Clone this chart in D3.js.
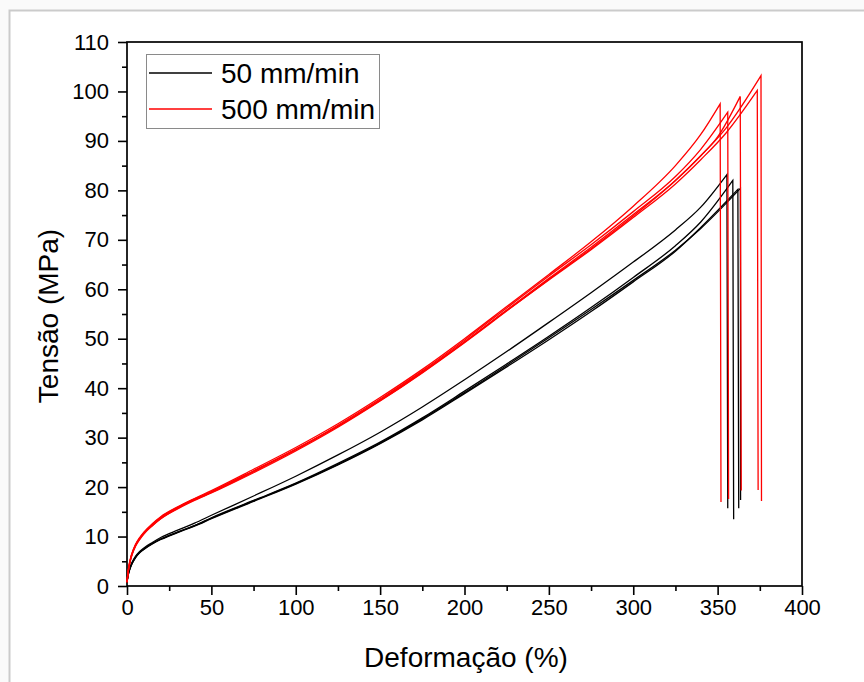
<!DOCTYPE html>
<html>
<head>
<meta charset="utf-8">
<script src="https://cdn.jsdelivr.net/npm/d3@7"></script>
<style>
  body { margin: 0; background: #fafafa; }
  svg { display: block; }
</style>
</head>
<body>
<div id="chart"></div>
<script>
// strain grid (%) shared by all specimens
var strain = [0, 0.5, 1, 2, 3, 5, 7.5, 10, 15, 20, 30, 40, 50, 75, 100, 125, 150, 175, 200, 225, 250, 275, 300, 325];

// 500 mm/min specimens (stress MPa)
var r1Stress = [0.8, 2.5, 3.8, 5.5, 6.7, 8.4, 9.8, 10.9, 12.6, 14.0, 16.0, 17.7, 19.3, 23.6, 28.0, 32.8, 38.1, 43.8, 50.0, 56.5, 63.0, 69.6, 76.8, 85.0];
var r2Stress = [0.8, 2.4, 3.6, 5.3, 6.5, 8.2, 9.6, 10.7, 12.4, 13.8, 15.8, 17.5, 19.0, 23.2, 27.6, 32.5, 37.8, 43.5, 49.7, 56.2, 62.7, 69.0, 75.7, 82.8];
var r3Stress = [0.7, 2.3, 3.5, 5.2, 6.4, 8.1, 9.5, 10.6, 12.2, 13.6, 15.6, 17.3, 18.8, 22.9, 27.3, 32.1, 37.4, 43.1, 49.2, 55.6, 62.0, 68.2, 74.8, 82.0];
var r4Stress = [0.8, 2.4, 3.7, 5.4, 6.6, 8.3, 9.7, 10.8, 12.5, 13.9, 15.9, 17.6, 19.1, 23.3, 27.7, 32.3, 37.5, 43.2, 49.3, 55.7, 61.9, 68.0, 74.5, 81.3];
var r5Stress = [0.7, 2.2, 3.4, 5.1, 6.3, 8.0, 9.4, 10.5, 12.2, 13.6, 15.7, 17.4, 18.9, 23.1, 27.5, 32.3, 37.6, 43.3, 49.4, 55.8, 62.2, 68.5, 75.1, 82.0];
// end of each test: [strain, stress] up to the peak, then the break
var r1End = [[340, 91.3], [351.5, 97.5], [352, 17.0]];
var r2End = [[340, 88.3], [356, 95.8], [356.5, 17.6]];
var r3End = [[340, 87.0], [350, 90.8], [363.4, 99.0], [364, 19.3]];
var r4End = [[340, 86.2], [355, 91.6], [373.5, 100.2], [374, 19.4]];
var r5End = [[340, 87.0], [355, 92.6], [375.7, 103.2], [376, 17.2]];

// 50 mm/min specimens
var b1Stress = [0.8, 2.0, 2.9, 4.0, 4.8, 6.0, 7.0, 7.7, 8.8, 9.8, 11.3, 12.7, 14.3, 18.2, 22.2, 26.5, 31.1, 36.2, 41.7, 47.4, 53.3, 59.3, 65.5, 72.0];
var b2Stress = [0.8, 1.9, 2.7, 3.8, 4.6, 5.8, 6.8, 7.5, 8.6, 9.5, 10.9, 12.2, 13.8, 17.3, 20.8, 24.8, 29.1, 34.0, 39.4, 44.9, 50.5, 56.3, 62.4, 68.8];
var b3Stress = [0.7, 1.8, 2.6, 3.7, 4.5, 5.7, 6.7, 7.4, 8.5, 9.4, 10.8, 12.1, 13.6, 17.1, 20.6, 24.5, 28.8, 33.6, 38.9, 44.3, 49.8, 55.5, 61.5, 67.7];
var b4Stress = [0.8, 1.9, 2.7, 3.8, 4.6, 5.8, 6.8, 7.5, 8.6, 9.5, 10.9, 12.2, 13.7, 17.2, 20.7, 24.6, 28.9, 33.8, 39.1, 44.6, 50.2, 55.9, 61.8, 67.9];
var b1End = [[340, 76.6], [355.5, 83.2], [356, 15.7]];
var b2End = [[340, 73.6], [359, 82.0], [359.5, 13.5]];
var b3End = [[340, 72.5], [362, 80.2], [362.5, 15.7]];
var b4End = [[340, 72.3], [363.5, 80.4], [363.6, 17.4]];

var legendLabels = ["50 mm/min", "500 mm/min"];
var xTicks = [0, 50, 100, 150, 200, 250, 300, 350, 400];
var yTicks = [0, 10, 20, 30, 40, 50, 60, 70, 80, 90, 100, 110];

var svgWidth = 864, svgHeight = 682;
var margin = {top: 42, right: 62, bottom: 96, left: 127};
var width = svgWidth - margin.left - margin.right,
    height = svgHeight - margin.top - margin.bottom;

var svg = d3.select("#chart").append("svg")
    .attr("width", svgWidth)
    .attr("height", svgHeight);

// page frame
svg.append("rect")
    .attr("x", 9.5).attr("y", 10.5)
    .attr("width", svgWidth).attr("height", svgHeight)
    .attr("fill", "#fff")
    .attr("stroke", "#cbcbcb")
    .attr("stroke-width", 2);

var g = svg.append("g")
    .attr("transform", "translate(" + margin.left + "," + margin.top + ")");

var xScale = d3.scaleLinear().domain([0, 400]).range([0, width]);
var yScale = d3.scaleLinear().domain([0, 110]).range([height, 0]);

// minor ticks
g.append("g")
    .attr("transform", "translate(0," + height + ")")
    .call(d3.axisBottom(xScale).tickValues(d3.range(25, 400, 50)).tickSize(5).tickFormat(""))
    .call(function(a) { a.select(".domain").remove(); });
g.append("g")
    .call(d3.axisLeft(yScale).tickValues(d3.range(5, 110, 10)).tickSize(5).tickFormat(""))
    .call(function(a) { a.select(".domain").remove(); });

// major ticks
var xAxis = g.append("g")
    .attr("transform", "translate(0," + height + ")")
    .call(d3.axisBottom(xScale).tickValues(xTicks).tickSize(9).tickPadding(4));
var yAxis = g.append("g")
    .call(d3.axisLeft(yScale).tickValues(yTicks).tickSize(9).tickPadding(9));

g.selectAll(".tick line").attr("stroke", "#000").attr("stroke-width", 1.6);
g.selectAll(".domain").remove();
g.selectAll(".tick text")
    .attr("fill", "#000")
    .style("font-family", "'Liberation Sans', Arial, sans-serif")
    .style("font-size", "22px");

// frame of the plot area
g.append("rect")
    .attr("x", 0).attr("y", 0)
    .attr("width", width).attr("height", height)
    .attr("fill", "none")
    .attr("stroke", "#000")
    .attr("stroke-width", 1.7);

var smooth = d3.line()
    .curve(d3.curveMonotoneX)
    .x(function(d) { return xScale(d[0]); })
    .y(function(d) { return yScale(d[1]); });
var straight = d3.line()
    .x(function(d) { return xScale(d[0]); })
    .y(function(d) { return yScale(d[1]); });

// rising part smooth, then the straight drop at break
function curvePath(d) {
  var n = d.length;
  return smooth(d.slice(0, n - 1)) + straight(d.slice(n - 2)).replace("M", "L");
}

function pts(stress, end) {
  return strain.map(function(s, i) { return [s, stress[i]]; }).concat(end);
}

var black = [pts(b1Stress, b1End), pts(b2Stress, b2End), pts(b3Stress, b3End), pts(b4Stress, b4End)];
var red = [pts(r1Stress, r1End), pts(r2Stress, r2End), pts(r3Stress, r3End), pts(r4Stress, r4End), pts(r5Stress, r5End)];

g.selectAll(".black").data(black).enter().append("path")
    .attr("d", curvePath)
    .attr("fill", "none")
    .attr("stroke", "#000")
    .attr("stroke-width", 1.3);

g.selectAll(".red").data(red).enter().append("path")
    .attr("d", curvePath)
    .attr("fill", "none")
    .attr("stroke", "#ff0000")
    .attr("stroke-width", 1.3);

// axis titles
svg.append("text")
    .attr("x", 466).attr("y", 667)
    .attr("text-anchor", "middle")
    .style("font-family", "'Liberation Sans', Arial, sans-serif")
    .style("font-size", "28px")
    .text("Deformação (%)");

svg.append("text")
    .attr("transform", "translate(58,316) rotate(-90)")
    .attr("text-anchor", "middle")
    .style("font-family", "'Liberation Sans', Arial, sans-serif")
    .style("font-size", "28px")
    .text("Tensão (MPa)");

// legend
var legend = svg.append("g");
legend.append("rect")
    .attr("x", 146.5).attr("y", 54.5)
    .attr("width", 233).attr("height", 74)
    .attr("fill", "#fff")
    .attr("stroke", "#8a8a8a")
    .attr("stroke-width", 1);

var colors = ["#000", "#ff0000"];
legendLabels.forEach(function(lab, i) {
  var cy = 73 + i * 36;
  legend.append("line")
      .attr("x1", 149).attr("x2", 212)
      .attr("y1", cy).attr("y2", cy)
      .attr("stroke", colors[i])
      .attr("stroke-width", 1.3);
  legend.append("text")
      .attr("x", 221).attr("y", cy + 10)
      .style("font-family", "'Liberation Sans', Arial, sans-serif")
      .style("font-size", "28px")
      .text(lab);
});
</script>
</body>
</html>
